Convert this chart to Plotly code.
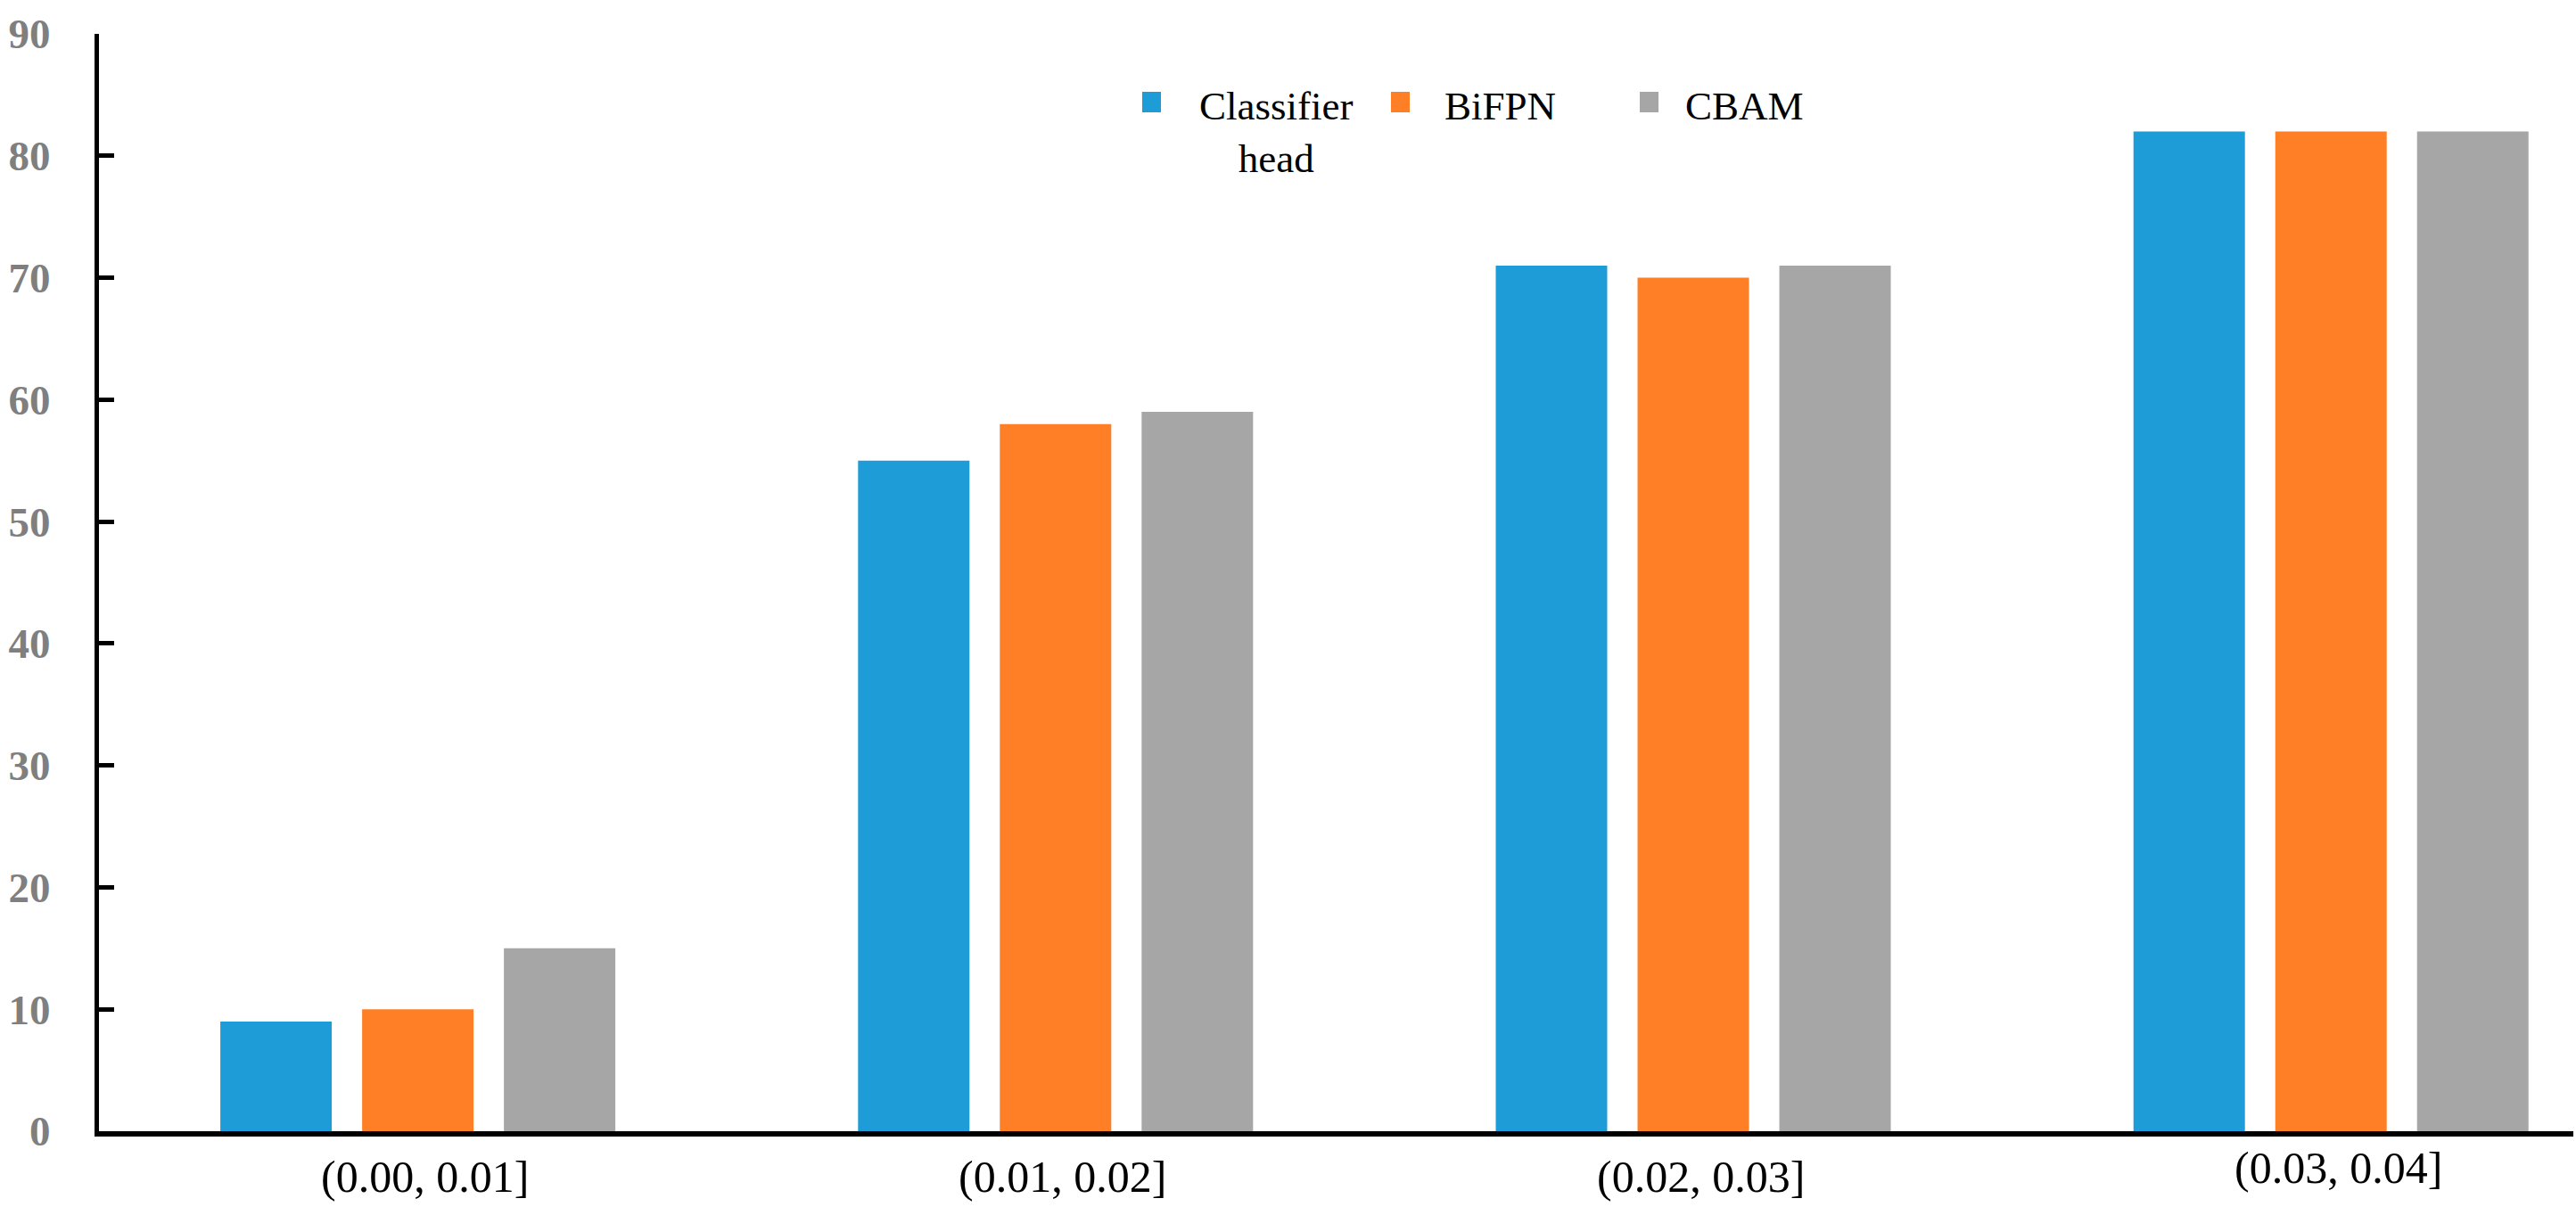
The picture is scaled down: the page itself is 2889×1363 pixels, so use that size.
import plotly.graph_objects as go

categories = ["(0.00, 0.01]", "(0.01, 0.02]", "(0.02, 0.03]", "(0.03, 0.04]"]
series_names = ["Classifier head", "BiFPN", "CBAM"]
legend_labels = ["Classifier<br>head", "BiFPN", "CBAM"]
classifier_head = [9, 55, 71, 82]
bifpn = [10, 58, 70, 82]
cbam = [15, 59, 71, 82]
y_ticks = [0, 10, 20, 30, 40, 50, 60, 70, 80, 90]

colors = ["#1E9CD7", "#FF7F27", "#A6A6A6"]
values = [classifier_head, bifpn, cbam]

W, H = 2889, 1363
L, R, T, B = 111, 3, 38, 94
PW, PH = W - L - R, H - T - B

def px_x(p):
    return (p - L) / PW

def px_y(p):
    return (H - B - p) / PH

fig = go.Figure()
for name, vals, col in zip(series_names, values, colors):
    fig.add_trace(go.Bar(x=categories, y=vals, name=name, marker=dict(color=col, line=dict(width=0)),
                         showlegend=False))

fig.update_layout(
    width=W, height=H,
    margin=dict(l=L, r=R, t=T, b=B, pad=0),
    paper_bgcolor="white", plot_bgcolor="white",
    barmode="group", bargap=0.333, bargroupgap=0.214,
    font=dict(family="Liberation Serif", color="black"),
)
fig.update_xaxes(type="category", range=[-0.5, 3.38], showticklabels=False, ticks="",
                 showline=True, linecolor="black", linewidth=6, showgrid=False, zeroline=False)
fig.update_yaxes(range=[0, 90], tickvals=y_ticks, ticks="inside", ticklen=17, tickwidth=5,
                 tickcolor="black", showline=True, linecolor="black", linewidth=5,
                 showgrid=False, zeroline=False, ticklabelstandoff=40,
                 tickfont=dict(family="Liberation Serif", size=47, color="#7F7F7F", weight="bold"))

# category labels (last one sits slightly higher, as in the source)
label_y = [1320, 1320, 1320, 1310]
for cat, ly in zip(categories, label_y):
    fig.add_annotation(x=cat, xref="x", y=px_y(ly), yref="paper", text=cat, showarrow=False,
                       xanchor="center", yanchor="middle", xshift=8,
                       font=dict(family="Liberation Serif", size=50, color="black"))

# legend (top centre)
sq_x = [1281, 1560, 1839]
txt_x = [1340, 1618, 1888]
for lab, col, sx, tx in zip(legend_labels, colors, sq_x, txt_x):
    fig.add_shape(type="rect", xref="paper", yref="paper", x0=px_x(sx), x1=px_x(sx + 21),
                  y0=px_y(126), y1=px_y(103), fillcolor=col, line=dict(width=0))
    if "<br>" in lab:
        fig.add_annotation(x=px_x(1431), xref="paper", y=px_y(92), yref="paper", text=lab,
                           showarrow=False, xanchor="center", yanchor="top", align="center",
                           font=dict(family="Liberation Serif", size=45, color="black"))
    else:
        fig.add_annotation(x=px_x(tx), xref="paper", y=px_y(92), yref="paper", text=lab,
                           showarrow=False, xanchor="left", yanchor="top", align="left",
                           font=dict(family="Liberation Serif", size=45, color="black"))

fig.write_html("out.html", config={"displayModeBar": False},
               post_script="document.body.style.margin='0';")
